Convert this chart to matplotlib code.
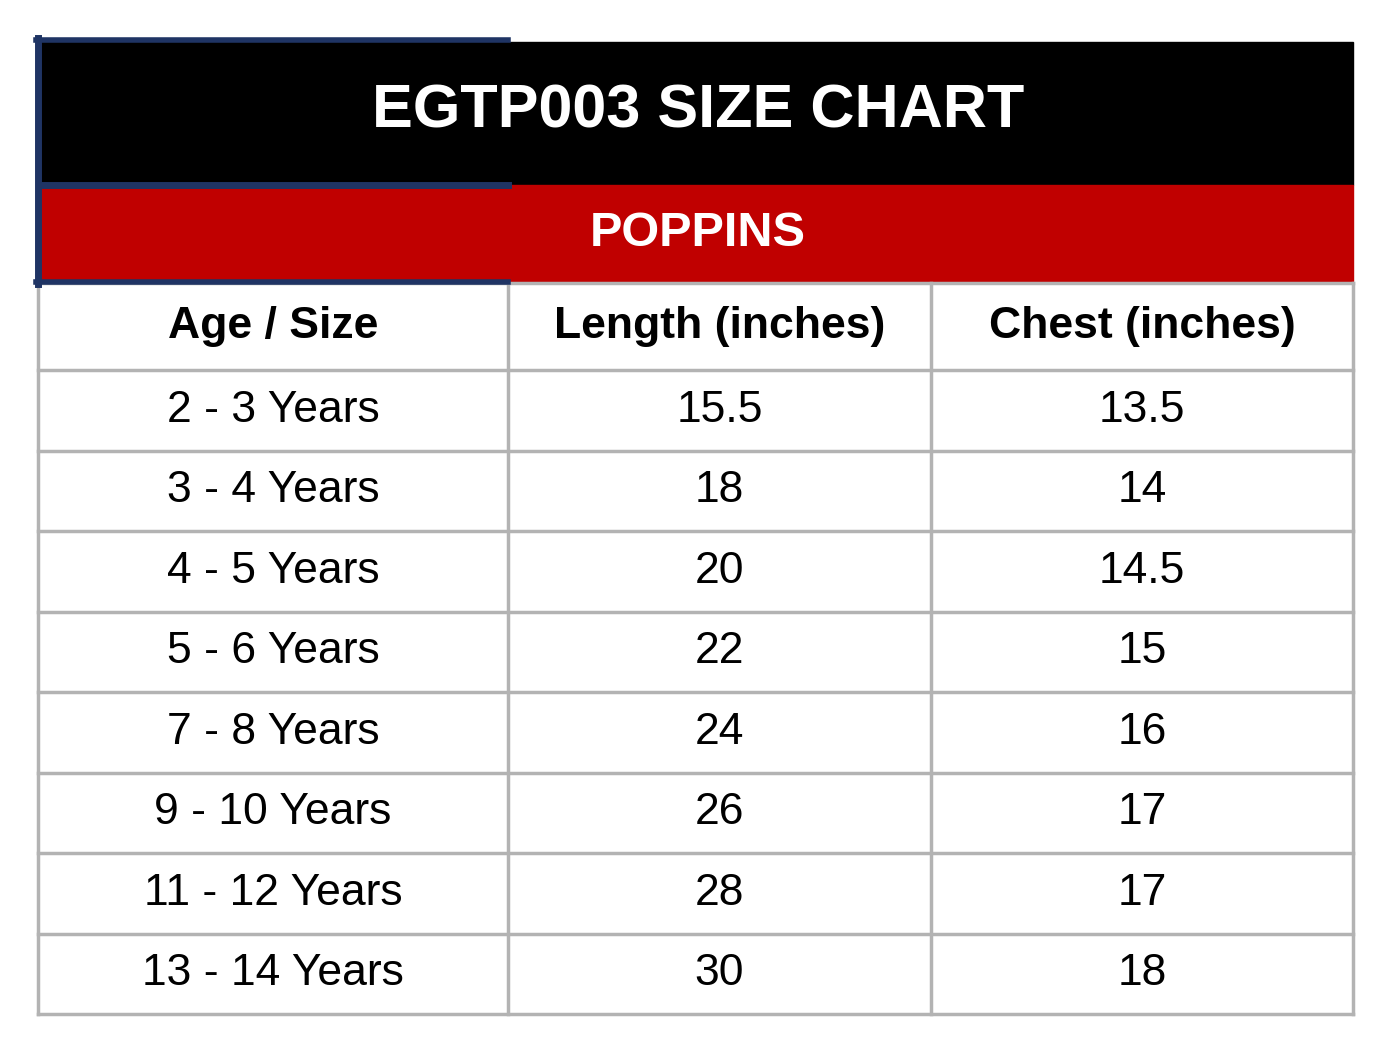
import matplotlib.pyplot as plt
from matplotlib.patches import Rectangle

title = "EGTP003 SIZE CHART"
subtitle = "POPPINS"
headers = ["Age / Size", "Length (inches)", "Chest (inches)"]
ages = ["2 - 3 Years", "3 - 4 Years", "4 - 5 Years", "5 - 6 Years",
        "7 - 8 Years", "9 - 10 Years", "11 - 12 Years", "13 - 14 Years"]
length = ["15.5", "18", "20", "22", "24", "26", "28", "30"]
chest = ["13.5", "14", "14.5", "15", "16", "17", "17", "18"]

plt.rcParams['font.family'] = ['Liberation Sans', 'DejaVu Sans']

fig = plt.figure(figsize=(13.87, 10.54), dpi=100)
ax = fig.add_axes([0, 0, 1, 1])
ax.set_xlim(0, 1387)
ax.set_ylim(1054, 0)
ax.axis('off')

col_x = [38, 508, 931, 1353]
head_top, head_bot = 283, 370
row_h = (1014 - head_bot) / len(ages)
grid = '#b3b3b3'

# title bands
ax.add_patch(Rectangle((38, 42), 1315, 143, color='black', zorder=1))
ax.add_patch(Rectangle((38, 185), 1315, 96, color='#c00000', zorder=1))
ax.text(698, 112, title, ha='center', va='center', color='white',
        fontsize=44, fontweight='bold')
ax.text(698, 233, subtitle, ha='center', va='center', color='white',
        fontsize=35, fontweight='bold')

# navy frame on the left part
navy = '#1f3464'
ax.plot([36, 508], [40, 40], color=navy, lw=4, zorder=3)
ax.plot([40, 508], [185, 185], color=navy, lw=5, zorder=3)
ax.plot([36, 508], [282, 282], color=navy, lw=4, zorder=3)
ax.plot([38, 38], [38, 284], color=navy, lw=5, zorder=3)

# grid
bottom = head_bot + row_h * len(ages)
for x in col_x:
    ax.plot([x, x], [head_top, bottom], color=grid, lw=2.5, zorder=2)
ax.plot([col_x[0], col_x[-1]], [head_top, head_top], color=grid, lw=2.5)
for i in range(len(ages) + 1):
    y = head_bot + i * row_h
    ax.plot([col_x[0], col_x[-1]], [y, y], color=grid, lw=2.5, zorder=2)

centers = [(col_x[i] + col_x[i + 1]) / 2 for i in range(3)]
for c, h in zip(centers, headers):
    ax.text(c, (head_top + head_bot) / 2, h, ha='center', va='center',
            fontsize=32, fontweight='bold', color='black')

for i, row in enumerate(zip(ages, length, chest)):
    y = head_bot + (i + 0.5) * row_h
    for c, v in zip(centers, row):
        ax.text(c, y, v, ha='center', va='center', fontsize=32, color='black')

fig.savefig('out.png', dpi=100)
